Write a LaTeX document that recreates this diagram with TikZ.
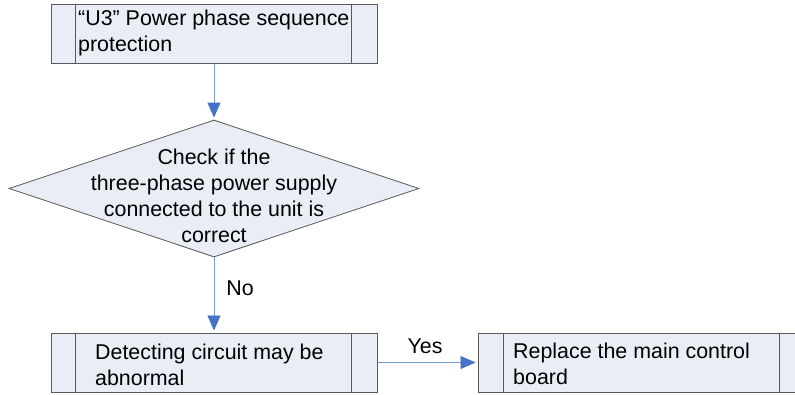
\documentclass[tikz,border=0pt]{standalone}
\usepackage{fontspec}
\setmainfont{Liberation Sans}
\usetikzlibrary{shapes.geometric,arrows.meta}
\definecolor{boxfill}{HTML}{E9EDF5}
\definecolor{boxline}{HTML}{595959}
\definecolor{arrowline}{HTML}{7A9CD2}
\definecolor{arrowblue}{HTML}{4472C4}
\begin{document}
\begin{tikzpicture}[x=1pt,y=-1pt,
  procbox/.style={draw=boxline, fill=boxfill, line width=1pt, rectangle, minimum width=326pt, minimum height=59pt, inner sep=0pt},
  decbox/.style={draw=boxline, fill=boxfill, line width=0.8pt, diamond, minimum width=410pt, minimum height=137pt, inner sep=0pt},
  sideline/.style={draw=boxline, line width=1pt},
  flowarrow/.style={draw=arrowline, line width=0.9pt, -{Triangle[length=15pt,width=13pt,color=arrowblue]}, shorten >=2pt},
  lbl/.style={font=\fontsize{21.4}{26}\selectfont, inner sep=0pt, text=black},
]
\useasboundingbox (0,0) rectangle (795,394);
\fill[white] (0,0) rectangle (795,394);

\node[procbox] (top) at (214,33.5) {};
\draw[sideline] ([xshift=25pt]top.north west) -- ([xshift=25pt]top.south west);
\draw[sideline] ([xshift=-26pt]top.north east) -- ([xshift=-26pt]top.south east);
\node[lbl, anchor=west, align=left] (toptext) at (78,33) {“U3” Power phase sequence\\protection};

\node[decbox] (dia) at (214,188.5) {};
\node[lbl, align=center] (diatext) at (214,196) {Check if the\\three-phase power supply\\connected to the unit is\\correct};

\node[procbox] (det) at (214,362.5) {};
\draw[sideline] ([xshift=25pt]det.north west) -- ([xshift=25pt]det.south west);
\draw[sideline] ([xshift=-26pt]det.north east) -- ([xshift=-26pt]det.south east);
\node[lbl, anchor=west, align=left] (dettext) at (95,365) {Detecting circuit may be\\abnormal};

\node[procbox, minimum width=327pt] (rep) at (641.5,362.5) {};
\draw[sideline] ([xshift=26pt]rep.north west) -- ([xshift=26pt]rep.south west);
\draw[sideline] ([xshift=-26pt]rep.north east) -- ([xshift=-26pt]rep.south east);
\node[lbl, anchor=west, align=left] (reptext) at (513,364) {Replace the main control\\board};

\draw[flowarrow] (top.south) -- (dia.north);
\draw[flowarrow] (dia.south) -- (det.north);
\draw[flowarrow] (det.east) -- (rep.west);

\node[lbl] (no) at (240,288) {No};
\node[lbl] (yes) at (425,346) {Yes};
\end{tikzpicture}
\end{document}
